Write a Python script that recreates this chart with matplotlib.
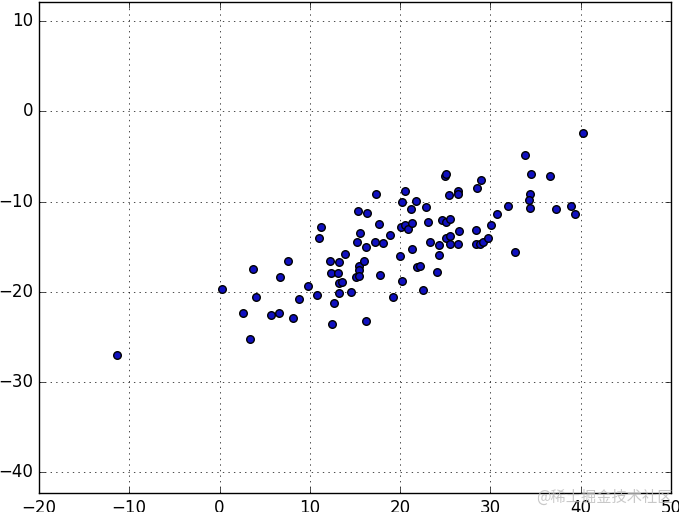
import numpy as np
import matplotlib
matplotlib.use('Agg')
import matplotlib.pyplot as plt

# points
x = [-11.36, 0.27, 3.70, 4.03, 2.59, 3.37, 5.69, 6.58, 6.69, 7.57,
     8.13, 8.79, 9.79, 10.79, 11.01, 11.23, 12.23, 12.34, 12.45, 12.67,
     13.22, 13.11, 13.22, 13.55, 13.22, 13.89, 14.55, 15.22, 15.55, 15.33,
     16.32, 15.44, 15.44, 15.11, 15.44, 15.99, 16.21, 16.21, 17.21, 18.10,
     17.32, 17.65, 17.76, 18.87, 19.20, 19.98, 20.09, 20.53, 20.86, 21.31,
     20.20, 20.53, 21.75, 21.20, 21.31, 20.20, 21.86, 22.19, 22.52, 22.86,
     23.08, 23.30, 24.08, 24.30, 24.30, 24.63, 25.07, 25.51, 24.96, 25.07,
     25.40, 26.40, 26.40, 25.07, 25.51, 25.51, 26.40, 26.51, 28.39, 28.39,
     28.84, 29.17, 28.50, 28.95, 29.72, 30.06, 30.72, 31.94, 32.71, 33.82,
     34.49, 36.59, 34.37, 34.26, 34.37, 37.25, 38.91, 39.36, 40.24]
y = [-27.03, -19.71, -17.49, -20.60, -22.37, -25.25, -22.59, -22.37, -18.38, -16.61,
     -22.93, -20.82, -19.38, -20.38, -14.06, -12.84, -16.61, -17.94, -23.59, -21.26,
     -16.72, -17.94, -19.05, -18.94, -20.16, -15.83, -20.04, -14.50, -13.50, -11.06,
     -11.29, -17.16, -17.61, -18.38, -18.27, -16.61, -15.06, -23.26, -14.50, -14.61,
     -9.18, -12.51, -18.16, -13.73, -20.60, -16.05, -12.84, -12.62, -13.06, -12.39,
     -10.07, -8.85, -9.96, -10.84, -15.28, -18.82, -17.27, -17.16, -19.82, -10.62,
     -12.28, -14.50, -17.83, -14.83, -15.94, -12.06, -12.28, -11.95, -7.18, -6.96,
     -9.29, -8.85, -9.18, -14.06, -13.84, -14.72, -14.72, -13.28, -13.17, -14.72,
     -14.72, -14.50, -8.51, -7.63, -14.06, -12.62, -11.40, -10.51, -15.61, -4.86,
     -6.96, -7.18, -9.18, -9.84, -10.73, -10.84, -10.51, -11.40, -2.42]

plt.style.use('classic')
fig = plt.figure(figsize=(6.79, 5.12), dpi=100)
ax = fig.add_axes([0.0574, 0.037, 0.9306, 0.959])
ax.scatter(x, y, c='#1010c0', s=30, edgecolors='k', zorder=3)
ax.set_xlim(-20, 50)
ax.set_ylim(-42.3, 12.1)
ax.set_xticks(np.arange(-20, 51, 10))
ax.set_yticks(np.arange(-40, 11, 10))
ax.grid(True)

fig.text(0.99, 0.012, '@稀土掘金技术社区', ha='right', va='bottom', fontsize=11,
         color='#bbbbbb', alpha=0.8, family=['Noto Sans CJK SC', 'DejaVu Sans'])

fig.savefig('out.png', dpi=100)
